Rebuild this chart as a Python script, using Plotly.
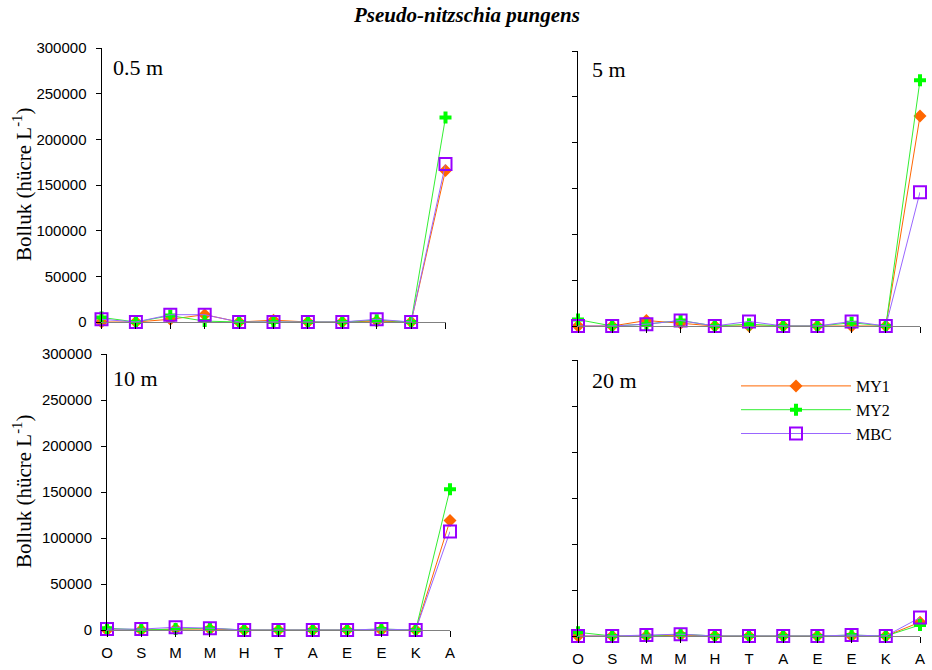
import plotly.graph_objects as go

# Sampling months (Oct .. Aug) and stations
months = ["O", "S", "M", "M", "H", "T", "A", "E", "E", "K", "A"]
stations = ["MY1", "MY2", "MBC"]
depths = ["0.5 m", "5 m", "10 m", "20 m"]

# Pseudo-nitzschia pungens abundance (cells per litre) by depth
d05_my1 = [0, 0, 3000, 8000, 0, 2000, 0, 0, 1000, 0, 166000]
d05_my2 = [5000, 0, 7000, 1000, 0, 0, 0, 0, 2000, 0, 224000]
d05_mbc = [3000, 0, 8000, 8000, 0, 0, 0, 0, 3000, 0, 173000]

d5_my1 = [0, 0, 6000, 3000, 0, 0, 0, 0, 0, 0, 229000]
d5_my2 = [7000, 0, 2000, 6000, 0, 2000, 0, 0, 3500, 0, 268000]
d5_mbc = [0, 0, 2000, 6000, 0, 5000, 0, 0, 5000, 0, 146000]

d10_my1 = [0, 0, 1000, 1000, 0, 0, 0, 0, 0, 0, 119000]
d10_my2 = [2000, 0, 1000, 2000, 0, 0, 0, 0, 1000, 0, 153000]
d10_mbc = [1000, 1000, 3000, 2000, 0, 0, 0, 0, 1000, 0, 107000]

d20_my1 = [0, 0, 0, 1000, 0, 0, 0, 0, 0, 0, 15000]
d20_my2 = [4000, 0, 0, 2000, 0, 0, 0, 0, 1000, 0, 12000]
d20_mbc = [0, 0, 1000, 2000, 0, 0, 0, 0, 1000, 0, 20000]

y_ticks = [0, 50000, 100000, 150000, 200000, 250000, 300000]

panels = [
    (depths[0], [d05_my1, d05_my2, d05_mbc]),
    (depths[1], [d5_my1, d5_my2, d5_mbc]),
    (depths[2], [d10_my1, d10_my2, d10_mbc]),
    (depths[3], [d20_my1, d20_my2, d20_mbc]),
]

W, H = 932, 670
# plot-area boxes in pixels: (left, right, bottom, top)
boxes = [
    (101.5, 445.5, 322, 48),
    (578, 920, 326, 51),
    (107, 450, 630, 354),
    (578, 920, 636, 360),
]
# depth-label anchor points in pixels (left x, centre y)
label_pos = [(112, 68), (591, 70), (112, 378), (591, 380)]

styles = {
    "MY1": dict(line=dict(color="#FF6600", width=1),
                marker=dict(symbol="diamond", size=10, color="#FF6600")),
    "MY2": dict(line=dict(color="#33EE33", width=1),
                marker=dict(symbol="cross", size=10, color="#00FF00")),
    "MBC": dict(line=dict(color="#9966FF", width=1),
                marker=dict(symbol="square-open", size=12, color="#9900FF",
                            line=dict(width=2, color="#9900FF"))),
}

xs = list(range(len(months)))
fig = go.Figure()
serif = "Liberation Serif"
sans = "Liberation Sans"

for i, ((label, series), (l, r, b, t)) in enumerate(zip(panels, boxes)):
    n = "" if i == 0 else str(i + 1)
    for name, vals in zip(stations, series):
        st = styles[name]
        fig.add_trace(go.Scatter(
            x=xs, y=vals, name=name, mode="lines+markers",
            line=st["line"], marker=st["marker"], cliponaxis=False,
            xaxis="x" + n, yaxis="y" + n, showlegend=(i == 3),
        ))
    fig.layout["xaxis" + n] = dict(
        domain=[l / W, r / W], anchor="y" + n, range=[0, 10],
        showgrid=False, zeroline=False, showline=True, linecolor="#808080",
        linewidth=1, ticks="outside", ticklen=6, tickcolor="#000000",
        tickvals=xs, ticktext=months, showticklabels=(i >= 2),
        ticklabelstandoff=3, automargin=False,
        tickfont=dict(family=sans, size=15, color="#000000"),
    )
    fig.layout["yaxis" + n] = dict(
        domain=[1 - b / H, 1 - t / H], anchor="x" + n, range=[0, 300000],
        showgrid=False, zeroline=False, showline=True, linecolor="#000000",
        linewidth=1, ticks="outside", ticklen=5, tickcolor="#000000",
        tickvals=y_ticks, ticktext=[str(v) for v in y_ticks],
        showticklabels=(i % 2 == 0), ticklabelstandoff=6, automargin=False,
        tickfont=dict(family=sans, size=15, color="#000000"),
    )
    lx, ly = label_pos[i]
    fig.add_annotation(
        text=label, xref="paper", yref="paper", x=lx / W, y=1 - ly / H,
        xanchor="left", yanchor="middle", showarrow=False, borderpad=0,
        font=dict(family=serif, size=22, color="#000000"),
    )
    if i % 2 == 0:
        fig.add_annotation(
            text="Bolluk (hücre L<sup>-1</sup>)", xref="paper", yref="paper",
            x=22 / W, y=1 - ((b + t) / 2) / H, textangle=-90,
            xanchor="center", yanchor="middle", showarrow=False,
            font=dict(family=serif, size=21, color="#000000"),
        )

fig.add_annotation(
    text="Pseudo-nitzschia pungens", xref="paper", yref="paper",
    x=466 / W, y=1 - 15 / H, xanchor="center", yanchor="middle", showarrow=False,
    font=dict(family=serif, size=21, color="#000000", weight="bold", style="italic"),
)

fig.update_layout(
    width=W, height=H, margin=dict(l=0, r=0, t=0, b=0, autoexpand=False),
    paper_bgcolor="#FFFFFF", plot_bgcolor="#FFFFFF",
    showlegend=True,
    legend=dict(x=736 / W, y=1 - 369 / H, xanchor="left", yanchor="top",
                bgcolor="rgba(0,0,0,0)", itemwidth=110,
                font=dict(family=serif, size=16, color="#000000")),
)

fig.write_html("out.html")
